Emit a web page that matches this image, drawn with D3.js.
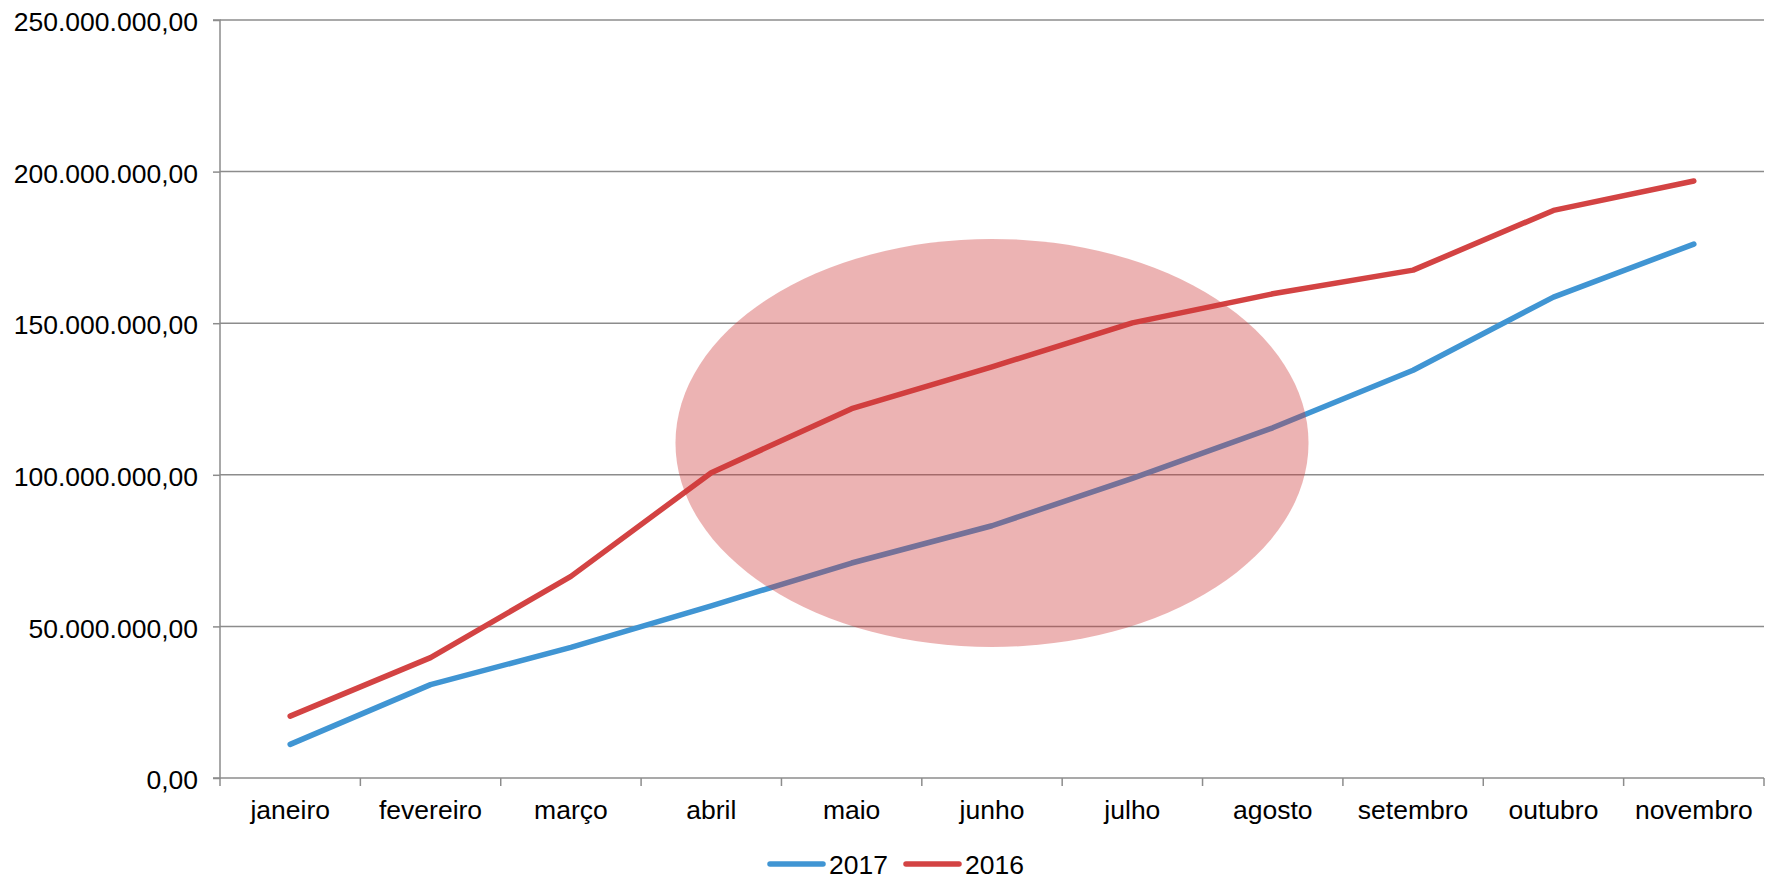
<!DOCTYPE html>
<html><head><meta charset="utf-8">
<script src="https://cdn.jsdelivr.net/npm/d3@7"></script>
<style>body{margin:0;background:#fff}svg{display:block;font-family:"Liberation Sans",Arial,sans-serif}</style>
</head><body>
<svg id="c" width="1767" height="879"></svg>
<script>
const months = ["janeiro","fevereiro","março","abril","maio","junho","julho","agosto","setembro","outubro","novembro"];
const v2017 = [11.1e6,30.8e6,43.1e6,56.8e6,70.9e6,83.2e6,98.8e6,115.5e6,134.5e6,158.6e6,176.1e6];
const v2016 = [20.4e6,39.7e6,66.5e6,100.7e6,121.8e6,135.6e6,150.1e6,159.7e6,167.5e6,187.2e6,196.9e6];
const yTicks = [0,50e6,100e6,150e6,200e6,250e6];
const seriesNames = ["2017","2016"];
const colors = ["#4095D3","#D34343"];
// highlight ellipse (center month index, center value, half-width in months, half-height in value)
const highlight = {cx: 5, cy: 110.5e6, rxBands: 2.255, ry: 67.3e6};

const FS = 26.5;
const svg = d3.select("#c");
const L=220, R=1764, T=20, B=778;
const x = d3.scaleBand().domain(months).range([L,R]);
const y = d3.scaleLinear().domain([0,250e6]).range([B,T]);
const fmt = v => d3.format(",.2f")(v).replace(/,/g,"#").replace(/\./g,",").replace(/#/g,".");

// gridlines
svg.append("g").selectAll("line").data(yTicks.filter(t=>t>0)).join("line")
  .attr("x1",L).attr("x2",R).attr("y1",d=>y(d)).attr("y2",d=>y(d))
  .attr("stroke","#8c8c8c").attr("stroke-width",1.5);

// y axis
const ya = svg.append("g").attr("transform",`translate(${L},0)`)
  .call(d3.axisLeft(y).tickValues(yTicks).tickFormat(fmt).tickSize(7).tickPadding(15));
ya.select(".domain").attr("stroke","#8c8c8c").attr("stroke-width",1.5).attr("d",`M-7,${T}H0V${B}H-7`);
ya.selectAll(".tick line").attr("stroke","#8c8c8c").attr("stroke-width",1.5);
ya.selectAll("text").attr("font-size",FS).attr("fill","#000").attr("dy","0.4em")
  .attr("font-family","'Liberation Sans',Arial,sans-serif");

// x axis
const xa = svg.append("g").attr("transform",`translate(0,${B})`)
  .call(d3.axisBottom(x).tickSize(0).tickPadding(22));
xa.select(".domain").attr("stroke","#8c8c8c").attr("stroke-width",1.5).attr("d",`M${L},0H${R}`);
xa.selectAll("text").attr("font-size",FS).attr("fill","#000").attr("font-family","'Liberation Sans',Arial,sans-serif");
const bounds = months.map((m,i)=>x(m)).concat([R]);
svg.append("g").selectAll("line").data(bounds).join("line")
  .attr("x1",d=>d).attr("x2",d=>d).attr("y1",B).attr("y2",B+8)
  .attr("stroke","#8c8c8c").attr("stroke-width",1.5);

// lines
const line = d3.line().x((d,i)=>x(months[i])+x.bandwidth()/2).y(d=>y(d));
[v2017,v2016].forEach((s,k)=>{
  svg.append("path").attr("d",line(s)).attr("fill","none").attr("stroke",colors[k])
    .attr("stroke-width",5.5).attr("stroke-linecap","round").attr("stroke-linejoin","round");
});

// ellipse overlay
svg.append("ellipse")
  .attr("cx", x(months[highlight.cx])+x.bandwidth()/2)
  .attr("cy", y(highlight.cy))
  .attr("rx", highlight.rxBands*x.bandwidth())
  .attr("ry", y(0)-y(highlight.ry))
  .attr("fill","rgb(205,55,55)").attr("fill-opacity",0.38);

// legend
const lg = svg.append("g").attr("transform","translate(770,864)");
const lx = [0,136];
seriesNames.forEach((n,k)=>{
  lg.append("line").attr("x1",lx[k]).attr("x2",lx[k]+53).attr("y1",0).attr("y2",0)
    .attr("stroke",colors[k]).attr("stroke-width",5.5).attr("stroke-linecap","round");
  lg.append("text").attr("x",lx[k]+59).attr("y",9.5).text(n).attr("font-size",FS).attr("fill","#000");
});
</script>
</body></html>
